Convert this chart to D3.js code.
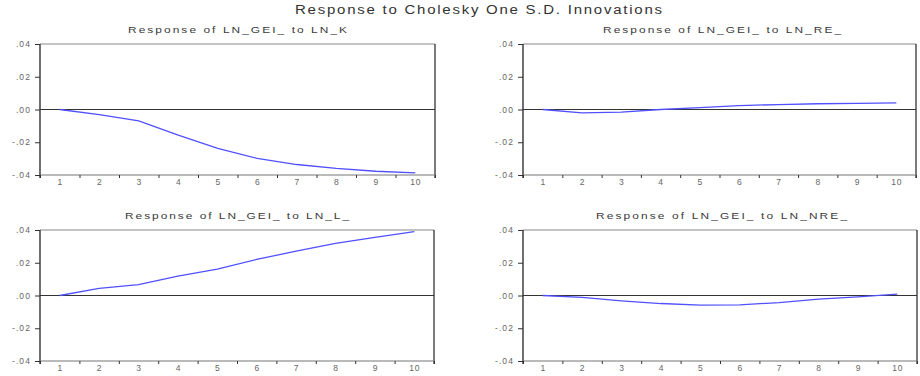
<!DOCTYPE html>
<html>
<head>
<meta charset="utf-8">
<script src="https://cdn.jsdelivr.net/npm/d3@7"></script>
<style>
  html, body { margin: 0; padding: 0; background: #fff; }
  svg { display: block; font-family: "Liberation Sans", Arial, sans-serif; }
</style>
</head>
<body>
<svg id="chart" width="920" height="376"></svg>
<script>
// Impulse-response periods and the four response series
const periods = [1, 2, 3, 4, 5, 6, 7, 8, 9, 10];
const respK   = [0, -0.0031, -0.0070, -0.0157, -0.0238, -0.0299, -0.0336, -0.0360, -0.0377, -0.0387];
const respRE  = [0, -0.0020, -0.0016, 0.0000, 0.0012, 0.0024, 0.0030, 0.0035, 0.0037, 0.0041];
const respL   = [0, 0.0043, 0.0067, 0.0118, 0.0161, 0.0220, 0.0271, 0.0318, 0.0355, 0.0390];
const respNRE = [0, -0.0012, -0.0033, -0.0049, -0.0059, -0.0057, -0.0043, -0.0022, -0.0008, 0.0008];

const yTicks = [-0.04, -0.02, 0, 0.02, 0.04];
const yTickLabels = ["-.04", "-.02", ".00", ".02", ".04"];

const mainTitle = "Response to Cholesky One S.D. Innovations";
const panelTitles = [
  "Response of LN_GEI_ to LN_K",
  "Response of LN_GEI_ to LN_RE_",
  "Response of LN_GEI_ to LN_L_",
  "Response of LN_GEI_ to LN_NRE_"
];
const panelSeries = [respK, respRE, respL, respNRE];

// Panel frames [left, right, top, bottom] and title placement
const panels = [
  { x0: 40,  x1: 435, y0: 44,  y1: 175, tx: 237.5, ty: 33,  tw: 219 },
  { x0: 523, x1: 916, y0: 44,  y1: 175, tx: 722,   ty: 33,  tw: 238 },
  { x0: 40,  x1: 434, y0: 230, y1: 361, tx: 237,   ty: 219, tw: 224 },
  { x0: 523, x1: 917, y0: 230, y1: 361, tx: 721.5, ty: 219, tw: 251 }
];

const svg = d3.select("#chart");

// wide, letter-spaced label: glyphs stretched horizontally, gaps fill the rest
function wideText(parent, cx, by, str, size, width, stretch, fill) {
  parent.append("g")
    .attr("transform", `translate(${cx},${by}) scale(${stretch},1)`)
    .append("text")
    .attr("text-anchor", "middle")
    .attr("font-size", size)
    .attr("fill", fill)
    .attr("textLength", width / stretch)
    .attr("lengthAdjust", "spacing")
    .text(str);
}

wideText(svg, 478.5, 14, mainTitle, 12, 367, 1.25, "#333");

const yLabel = d => yTickLabels[yTicks.indexOf(d)];

panels.forEach((p, i) => {
  const g = svg.append("g");
  const x = d3.scaleLinear().domain([0.5, 10.5]).range([p.x0, p.x1]);
  const y = d3.scaleLinear().domain([-0.04, 0.04]).range([p.y1, p.y0]);
  const data = periods.map((t, k) => ({ t, v: panelSeries[i][k] }));

  // subplot title
  wideText(g, p.tx, p.ty, panelTitles[i], 9.5, p.tw, 1.25, "#3a3a3a");

  // frame: top and bottom grey, sides dark
  g.append("line").attr("x1", p.x0).attr("x2", p.x1).attr("y1", p.y0).attr("y2", p.y0)
    .attr("stroke", "#888").attr("stroke-width", 1.2);
  g.append("line").attr("x1", p.x1).attr("x2", p.x1).attr("y1", p.y0).attr("y2", p.y1 + 3)
    .attr("stroke", "#333").attr("stroke-width", 1.3);

  // zero reference line
  g.append("line").attr("x1", p.x0).attr("x2", p.x1).attr("y1", y(0)).attr("y2", y(0))
    .attr("stroke", "#333").attr("stroke-width", 1);

  // y axis
  const ya = g.append("g").attr("transform", `translate(${p.x0},0)`)
    .call(d3.axisLeft(y).tickValues(yTicks).tickFormat(yLabel).tickSize(5).tickPadding(4));
  ya.select(".domain").attr("stroke", "#333").attr("stroke-width", 1.4)
    .attr("d", `M0,${p.y0}V${p.y1 + 3}`);
  ya.selectAll(".tick line").attr("stroke", "#333");
  ya.selectAll(".tick text").attr("font-size", 8.5).attr("fill", "#666")
    .attr("letter-spacing", 1.1).attr("font-family", "Liberation Sans, Arial, sans-serif");

  // x axis: tick marks between periods, labels at the periods
  const bounds = d3.range(0.5, 11, 1);
  const xt = g.append("g").attr("transform", `translate(0,${p.y1})`)
    .call(d3.axisBottom(x).tickValues(bounds).tickFormat("").tickSize(3));
  xt.select(".domain").attr("stroke", "#777").attr("stroke-width", 1.2).attr("d", `M${p.x0},0H${p.x1}`);
  xt.selectAll(".tick line").attr("stroke", "#333");

  const xl = g.append("g").attr("transform", `translate(0,${p.y1})`)
    .call(d3.axisBottom(x).tickValues(periods).tickFormat(d3.format("d")).tickSize(0).tickPadding(4));
  xl.select(".domain").remove();
  xl.selectAll(".tick text").attr("font-size", 8.5).attr("fill", "#666")
    .attr("letter-spacing", 0.8).attr("font-family", "Liberation Sans, Arial, sans-serif");

  // response line
  g.append("path")
    .datum(data)
    .attr("fill", "none")
    .attr("stroke", "#5050ff")
    .attr("stroke-width", 1.3)
    .attr("d", d3.line().x(d => x(d.t)).y(d => y(d.v)));
});
</script>
</body>
</html>
